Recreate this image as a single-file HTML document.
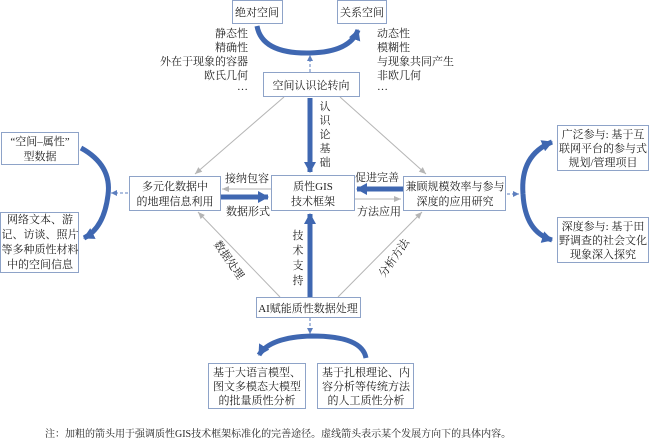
<!DOCTYPE html>
<html><head><meta charset="utf-8"><style>
body{margin:0;background:#fff;}
svg{display:block;}
text{font-family:"Liberation Serif","Noto Serif CJK SC",serif;font-size:11px;fill:#222;}
.b{fill:#fff;stroke:#8ea3c8;stroke-width:1;}
.g{stroke:#b5b5b5;stroke-width:1;fill:none;}
.t{stroke:#3f67b1;stroke-width:5;fill:none;}
.d{stroke:#5d7fbf;stroke-width:1;stroke-dasharray:3,2;fill:none;}
</style></head><body>
<svg width="650" height="440" viewBox="0 0 650 440">
<defs>
<marker id="ag" markerWidth="8" markerHeight="8" refX="7" refY="4" orient="auto" markerUnits="userSpaceOnUse"><path d="M0,1 L7,4 L0,7 Z" fill="#b5b5b5"/></marker>
<marker id="at" markerWidth="12" markerHeight="12" refX="10" refY="6" orient="auto" markerUnits="userSpaceOnUse"><path d="M0,0 L11,6 L0,12 Z" fill="#3f67b1"/></marker>
<marker id="ad" markerWidth="7" markerHeight="7" refX="6" refY="3.5" orient="auto" markerUnits="userSpaceOnUse"><path d="M0,0.5 L6,3.5 L0,6.5 Z" fill="#5d7fbf"/></marker>
</defs>

<path class="t" d="M257,26 Q262,54 310,53 Q350,52 358,30" marker-end="url(#at)"/>
<line class="d" x1="310" y1="72" x2="310" y2="55" marker-end="url(#ad)"/>
<line class="t" x1="310" y1="98" x2="310" y2="172" marker-end="url(#at)"/>
<line class="g" x1="284" y1="97" x2="195" y2="174" marker-end="url(#ag)"/>
<line class="g" x1="340" y1="97" x2="426" y2="174" marker-end="url(#ag)"/>
<line class="g" x1="280" y1="297" x2="198" y2="212" marker-end="url(#ag)"/>
<line class="g" x1="338" y1="297" x2="422" y2="212" marker-end="url(#ag)"/>
<line class="g" x1="271" y1="189" x2="222" y2="189" marker-end="url(#ag)"/>
<line class="t" x1="221" y1="197" x2="268" y2="197" marker-end="url(#at)"/>
<line class="t" x1="403" y1="189" x2="357" y2="189" marker-end="url(#at)"/>
<line class="g" x1="354" y1="199" x2="401" y2="199" marker-end="url(#ag)"/>
<line class="t" x1="310" y1="297" x2="310" y2="214" marker-end="url(#at)"/>
<line class="d" x1="128" y1="193" x2="111" y2="193" marker-end="url(#ad)"/>
<path class="t" d="M81,148 Q112,165 108,195 Q104,228 84,238" marker-end="url(#at)"/>
<line class="d" x1="507" y1="194" x2="519" y2="194" marker-end="url(#ad)"/>
<path class="t" d="M523,194 Q520,155 552,142" marker-end="url(#at)"/>
<path class="t" d="M523,194 Q525,232 552,240" marker-end="url(#at)"/>
<line class="d" x1="310" y1="318" x2="310" y2="334" marker-end="url(#ad)"/>
<path class="t" d="M366,358 Q362,336 312,336 Q270,337 259,355" marker-end="url(#at)"/>

<rect class="b" x="232.5" y="0.5" width="50" height="23"/><text x="257" y="16" text-anchor="middle">绝对空间</text>
<rect class="b" x="337.5" y="0.5" width="49" height="23"/><text x="362" y="16" text-anchor="middle">关系空间</text>
<rect class="b" x="263.5" y="72.5" width="96" height="24"/><text x="311" y="89" text-anchor="middle">空间认识论转向</text>
<rect class="b" x="129.5" y="176.5" width="91" height="34"/><text x="175" y="190" text-anchor="middle">多元化数据中</text><text x="175" y="205" text-anchor="middle">的地理信息利用</text>
<rect class="b" x="271.5" y="175.5" width="83" height="35"/><text x="313" y="190" text-anchor="middle">质性GIS</text><text x="313" y="205" text-anchor="middle">技术框架</text>
<rect class="b" x="403.5" y="176.5" width="102" height="34"/><text x="455" y="190" text-anchor="middle">兼顾规模效率与参与</text><text x="455" y="205" text-anchor="middle">深度的应用研究</text>
<rect class="b" x="1.5" y="132.5" width="77" height="32"/><text x="40" y="145" text-anchor="middle">“空间–属性”</text><text x="40" y="160" text-anchor="middle">型数据</text>
<rect class="b" x="0.5" y="212.5" width="78" height="60"/>
<text x="40" y="223" text-anchor="middle">网络文本、游</text><text x="40" y="238" text-anchor="middle">记、访谈、照片</text><text x="40" y="253" text-anchor="middle">等多种质性材料</text><text x="40" y="268" text-anchor="middle">中的空间信息</text>
<rect class="b" x="557.5" y="125.5" width="91" height="45"/>
<text x="603" y="138" text-anchor="middle">广泛参与: 基于互</text><text x="603" y="152" text-anchor="middle">联网平台的参与式</text><text x="603" y="166" text-anchor="middle">规划/管理项目</text>
<rect class="b" x="557.5" y="217.5" width="91" height="45"/>
<text x="603" y="230" text-anchor="middle">深度参与: 基于田</text><text x="603" y="244" text-anchor="middle">野调查的社会文化</text><text x="603" y="258" text-anchor="middle">现象深入探究</text>
<rect class="b" x="256.5" y="297.5" width="104" height="20"/><text x="308" y="312" text-anchor="middle">AI赋能质性数据处理</text>
<rect class="b" x="208.5" y="363.5" width="97" height="45"/>
<text x="257" y="376" text-anchor="middle">基于大语言模型、</text><text x="257" y="390" text-anchor="middle">图文多模态大模型</text><text x="257" y="404" text-anchor="middle">的批量质性分析</text>
<rect class="b" x="317.5" y="363.5" width="96" height="45"/>
<text x="366" y="376" text-anchor="middle">基于扎根理论、内</text><text x="366" y="390" text-anchor="middle">容分析等传统方法</text><text x="366" y="404" text-anchor="middle">的人工质性分析</text>

<g text-anchor="end"><text x="248" y="37">静态性</text><text x="248" y="51">精确性</text><text x="248" y="65">外在于现象的容器</text><text x="248" y="79">欧氏几何</text><text x="248" y="90">…</text></g>
<g><text x="377" y="37">动态性</text><text x="377" y="51">模糊性</text><text x="377" y="65">与现象共同产生</text><text x="377" y="79">非欧几何</text><text x="377" y="90">…</text></g>
<g text-anchor="middle"><text x="325" y="110">认</text><text x="325" y="124">识</text><text x="325" y="138">论</text><text x="325" y="152">基</text><text x="325" y="166">础</text>
<text x="298" y="239">技</text><text x="298" y="254">术</text><text x="298" y="269">支</text><text x="298" y="284">持</text>
<text x="247" y="182">接纳包容</text><text x="248" y="215">数据形式</text><text x="377" y="181">促进完善</text><text x="379" y="215">方法应用</text></g>
<text x="0" y="0" text-anchor="middle" transform="translate(226,262) rotate(55)">数据处理</text>
<text x="0" y="0" text-anchor="middle" transform="translate(397,260) rotate(-55)">分析方法</text>
<text x="45" y="437" style="font-size:10px">注：加粗的箭头用于强调质性GIS技术框架标准化的完善途径。虚线箭头表示某个发展方向下的具体内容。</text>
</svg>
</body></html>
